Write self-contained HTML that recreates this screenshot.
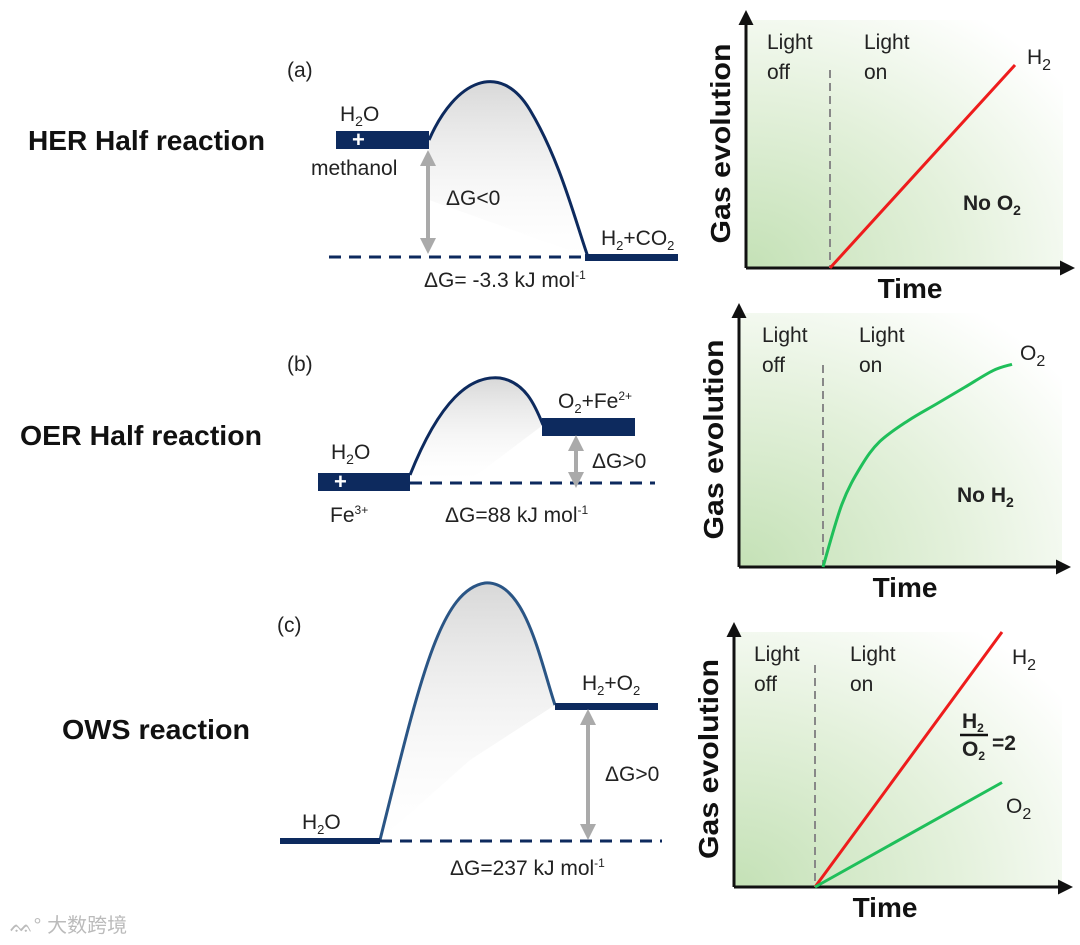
<!DOCTYPE html>
<html><head><meta charset="utf-8">
<style>
html,body{margin:0;padding:0;background:#fff;}
svg{display:block;font-family:"Liberation Sans","Noto Sans CJK SC",sans-serif;}
.lbl{font-size:21px;fill:#222;}
.big{font-size:28px;font-weight:bold;fill:#111;}
.ax{font-size:28px;font-weight:bold;fill:#111;}
</style></head>
<body>
<svg id="fig" width="1080" height="945" viewBox="0 0 1080 945" xmlns="http://www.w3.org/2000/svg">
<defs>
<radialGradient id="gbg" cx="0" cy="1" r="1.25">
<stop offset="0" stop-color="#c4e1b6"/><stop offset="0.55" stop-color="#e4f1dc"/><stop offset="1" stop-color="#ffffff"/>
</radialGradient>
<linearGradient id="shade" x1="0" y1="0" x2="0" y2="1">
<stop offset="0" stop-color="#d8d8d8"/><stop offset="1" stop-color="#ffffff" stop-opacity="0.2"/>
</linearGradient>
<marker id="ah" markerWidth="5" markerHeight="5" refX="4" refY="2.5" orient="auto"><path d="M0,0 L5,2.5 L0,5 Z" fill="#111"/></marker>
<marker id="ga" markerWidth="4" markerHeight="4" refX="2" refY="2" orient="auto-start-reverse"><path d="M0,0 L4,2 L0,4 Z" fill="#aaa"/></marker>
</defs>

<!-- Row labels -->
<text class="big" x="28" y="150" textLength="237" lengthAdjust="spacingAndGlyphs">HER Half reaction</text>
<text class="big" x="20" y="445" textLength="242" lengthAdjust="spacingAndGlyphs">OER Half reaction</text>
<text class="big" x="62" y="739" textLength="188" lengthAdjust="spacingAndGlyphs">OWS reaction</text>

<!-- Panel (a) -->
<g>
<text class="lbl" x="287" y="77" font-size="27">(a)</text>
<path d="M429,140 C455,80 500,60 530,110 C560,160 575,220 588,257 L429,200 Z" fill="url(#shade)"/>
<path d="M429,140 C455,80 500,60 530,110 C560,160 575,220 588,257" fill="none" stroke="#0d2a5e" stroke-width="3"/>
<rect x="336" y="131" width="93" height="18" fill="#0d2a5e"/>
<text x="352" y="147" fill="#fff" font-size="22" font-weight="bold">+</text>
<rect x="585" y="254" width="93" height="7" fill="#0d2a5e"/>
<line x1="329" y1="257" x2="585" y2="257" stroke="#0d2a5e" stroke-width="3" stroke-dasharray="12,8"/>
<line x1="428" y1="158" x2="428" y2="246" stroke="#aaa" stroke-width="4" marker-start="url(#ga)" marker-end="url(#ga)"/>
<text class="lbl" x="340" y="121">H<tspan font-size="14" dy="5">2</tspan><tspan dy="-5">O</tspan></text>
<text class="lbl" x="311" y="175">methanol</text>
<text class="lbl" x="446" y="205">ΔG&lt;0</text>
<text class="lbl" x="601" y="245" font-size="19">H<tspan font-size="13" dy="5">2</tspan><tspan dy="-5">+CO</tspan><tspan font-size="13" dy="5">2</tspan></text>
<text class="lbl" x="424" y="287" font-size="19">ΔG= -3.3 kJ mol<tspan font-size="12" dy="-8">-1</tspan></text>
</g>

<!-- Panel (b) -->
<g>
<text class="lbl" x="287" y="371" font-size="27">(b)</text>
<path d="M410,475 C440,400 470,375 500,378 C525,382 535,405 543,425 L470,480 Z" fill="url(#shade)"/>
<path d="M410,475 C440,400 470,375 500,378 C525,382 535,405 543,425" fill="none" stroke="#0d2a5e" stroke-width="3"/>
<rect x="318" y="473" width="92" height="18" fill="#0d2a5e"/>
<text x="334" y="489" fill="#fff" font-size="22" font-weight="bold">+</text>
<rect x="542" y="418" width="93" height="18" fill="#0d2a5e"/>
<line x1="410" y1="483" x2="655" y2="483" stroke="#0d2a5e" stroke-width="3" stroke-dasharray="12,8"/>
<line x1="576" y1="443" x2="576" y2="480" stroke="#aaa" stroke-width="4" marker-start="url(#ga)" marker-end="url(#ga)"/>
<text class="lbl" x="331" y="459">H<tspan font-size="14" dy="5">2</tspan><tspan dy="-5">O</tspan></text>
<text class="lbl" x="330" y="522" font-size="19">Fe<tspan font-size="12" dy="-8">3+</tspan></text>
<text class="lbl" x="592" y="468" font-size="19">ΔG&gt;0</text>
<text class="lbl" x="558" y="408" font-size="19">O<tspan font-size="13" dy="5">2</tspan><tspan dy="-5">+Fe</tspan><tspan font-size="12" dy="-8">2+</tspan></text>
<text class="lbl" x="445" y="522" font-size="19">ΔG=88 kJ mol<tspan font-size="12" dy="-8">-1</tspan></text>
</g>

<!-- Panel (c) -->
<g>
<text class="lbl" x="277" y="632" font-size="27">(c)</text>
<path d="M380,840 C420,680 440,590 485,583 C525,580 540,660 555,705 L470,760 Z" fill="url(#shade)"/>
<path d="M380,840 C420,680 440,590 485,583 C525,580 540,660 555,705" fill="none" stroke="#2a5585" stroke-width="3"/>
<rect x="280" y="838" width="100" height="6" fill="#0d2a5e"/>
<rect x="555" y="703" width="103" height="7" fill="#0d2a5e"/>
<line x1="380" y1="841" x2="662" y2="841" stroke="#0d2a5e" stroke-width="3" stroke-dasharray="12,8"/>
<line x1="588" y1="717" x2="588" y2="832" stroke="#aaa" stroke-width="4" marker-start="url(#ga)" marker-end="url(#ga)"/>
<text class="lbl" x="302" y="829" font-size="19">H<tspan font-size="13" dy="5">2</tspan><tspan dy="-5">O</tspan></text>
<text class="lbl" x="582" y="690" font-size="19">H<tspan font-size="13" dy="5">2</tspan><tspan dy="-5">+O</tspan><tspan font-size="13" dy="5">2</tspan></text>
<text class="lbl" x="605" y="781" font-size="19">ΔG&gt;0</text>
<text class="lbl" x="450" y="875" font-size="19">ΔG=237 kJ mol<tspan font-size="12" dy="-8">-1</tspan></text>
</g>

<g id="charts"></g>

<text x="10" y="932" font-size="20" fill="#bbb">ᨐ° 大数跨境</text>
</svg>

<script>
// Chart data (normalized time 0..1, gas 0..1)
const chartATime = [0, 1];
const chartAH2 = [0, 1];
const chartBTime = [0, 0.1, 0.2, 0.3, 0.45, 0.6, 0.75, 0.9, 1];
const chartBO2 = [0, 0.3, 0.48, 0.6, 0.7, 0.78, 0.86, 0.94, 0.97];
const chartCTime = [0, 1];
const chartCH2 = [0, 1];
const chartCO2 = [0, 0.41];

const svg = document.getElementById('fig');
const host = document.getElementById('charts');
const NS = 'http://www.w3.org/2000/svg';
function mk(tag, attrs, parent) {
  const e = document.createElementNS(NS, tag);
  for (const k in attrs) e.setAttribute(k, attrs[k]);
  (parent || host).appendChild(e);
  return e;
}
function txt(parent, x, y, html, cls, extra) {
  const t = mk('text', Object.assign({x: x, y: y}, extra || {}), parent);
  if (cls) t.setAttribute('class', cls);
  t.innerHTML = html;
  return t;
}

function chart(cfg) {
  const g = mk('g', {});
  
  
  const L = cfg.x0, T = cfg.top, R = cfg.right, B = cfg.y0;
  mk('rect', {x: L, y: T + 5, width: cfg.bgR - L, height: B - T - 5, fill: 'url(#gbg)'}, g);
  const yAxis = mk('line', {x1: L, y1: B, x2: L, y2: T - 2, stroke: '#111', 'stroke-width': 3, 'marker-end': 'url(#ah)'}, g);
  
  
  const xAxis = mk('line', {x1: L, y1: B, x2: R, y2: B, stroke: '#111', 'stroke-width': 3, 'marker-end': 'url(#ah)'}, g);
  
  
  const dl = mk('line', {x1: cfg.sx, y1: cfg.dashTop, x2: cfg.sx, y2: B, stroke: '#888', 'stroke-width': 2, 'stroke-dasharray': '8,5'}, g);
  
  
  const xs = t => cfg.sx + t * (cfg.ex - cfg.sx);
  const ys = v => B - v * (B - cfg.ey);
  cfg.series.forEach(s => {
    let d = '';
    s.t.forEach((t, i) => { d += (i ? ' L' : 'M') + xs(t).toFixed(1) + ',' + ys(s.v[i]).toFixed(1); });
    const p = mk('path', {d: d, fill: 'none', stroke: s.color, 'stroke-width': 3, 'stroke-linejoin': 'round'}, g);
    if (s.smooth) {
      let pts = s.t.map((t, i) => [xs(t), ys(s.v[i])]);
      let dd = 'M' + pts[0][0] + ',' + pts[0][1];
      for (let i = 0; i < pts.length - 1; i++) {
        const p0 = pts[i - 1] || pts[i], p1 = pts[i], p2 = pts[i + 1], p3 = pts[i + 2] || p2;
        dd += ' C' + (p1[0] + (p2[0] - p0[0]) / 6) + ',' + (p1[1] + (p2[1] - p0[1]) / 6) + ' ' +
              (p2[0] - (p3[0] - p1[0]) / 6) + ',' + (p2[1] - (p3[1] - p1[1]) / 6) + ' ' + p2[0] + ',' + p2[1];
      }
      p.setAttribute('d', dd);
    }
    
    
  });
  txt(g, cfg.offX, T + 34, 'Light', 'lbl');
  txt(g, cfg.offX, T + 64, 'off', 'lbl');
  txt(g, cfg.onX, T + 34, 'Light', 'lbl');
  txt(g, cfg.onX, T + 64, 'on', 'lbl');
  const yt = txt(g, 0, 0, 'Gas evolution', 'ax', {transform: 'translate(' + (L - 16) + ',' + ((T + B) / 2 + 2) + ') rotate(-90)', 'text-anchor': 'middle', textLength: 200, lengthAdjust: 'spacingAndGlyphs'});
  
  
  const xt = txt(g, cfg.timeX, B + 30, 'Time', 'ax', {'text-anchor': 'middle'});
  
  
  cfg.labels.forEach(l => {
    const t = txt(g, l.x, l.y, l.html, l.cls || 'lbl', l.extra);
    
    
  });
}

chart({name: 'chart-a', x0: 746, top: 15, right: 1072, y0: 268, bgR: 1063, sx: 830, ex: 1015, ey: 65, dashTop: 70,
  offX: 767, onX: 864, timeX: 910,
  series: [{name: 'h2-line', t: chartATime, v: chartAH2, color: '#ee1c1c'}],
  labels: [
    {name: 'h2-label', x: 1027, y: 64, html: 'H<tspan font-size="16" dy="6">2</tspan>', extra: {'font-size': 26}},
    {name: 'no-o2-label', x: 963, y: 210, html: 'No O<tspan font-size="14" dy="5">2</tspan>', extra: {'font-size': 21, 'font-weight': 'bold'}}
  ]});

chart({name: 'chart-b', x0: 739, top: 308, right: 1068, y0: 567, bgR: 1062, sx: 823, ex: 1012, ey: 358, dashTop: 365,
  offX: 762, onX: 859, timeX: 905,
  series: [{name: 'o2-curve', t: chartBTime, v: chartBO2, color: '#1fbf5a', smooth: true}],
  labels: [
    {name: 'o2-label', x: 1020, y: 360, html: 'O<tspan font-size="16" dy="6">2</tspan>', extra: {'font-size': 26}},
    {name: 'no-h2-label', x: 957, y: 502, html: 'No H<tspan font-size="14" dy="5">2</tspan>', extra: {'font-size': 21, 'font-weight': 'bold'}}
  ]});

chart({name: 'chart-c', x0: 734, top: 627, right: 1070, y0: 887, bgR: 1062, sx: 815, ex: 1002, ey: 632, dashTop: 665,
  offX: 754, onX: 850, timeX: 885,
  series: [
    {name: 'h2-line', t: chartCTime, v: chartCH2, color: '#ee1c1c'},
    {name: 'o2-line', t: chartCTime, v: chartCO2, color: '#1fbf5a'}
  ],
  labels: [
    {name: 'h2-label', x: 1012, y: 664, html: 'H<tspan font-size="16" dy="6">2</tspan>', extra: {'font-size': 26}},
    {name: 'o2-label', x: 1006, y: 813, html: 'O<tspan font-size="16" dy="6">2</tspan>', extra: {'font-size': 26}},
    {name: 'ratio-numerator', x: 962, y: 728, html: 'H<tspan font-size="12" dy="4">2</tspan>', extra: {'font-size': 17, 'font-weight': 'bold'}},
    {name: 'ratio-denominator', x: 962, y: 756, html: 'O<tspan font-size="12" dy="4">2</tspan>', extra: {'font-size': 17, 'font-weight': 'bold'}},
    {name: 'ratio-value', x: 992, y: 750, html: '=2', extra: {'font-size': 21, 'font-weight': 'bold'}}
  ]});
mk('line', {x1: 960, y1: 735, x2: 988, y2: 735, stroke: '#111', 'stroke-width': 2.5});
</script>
</body></html>
